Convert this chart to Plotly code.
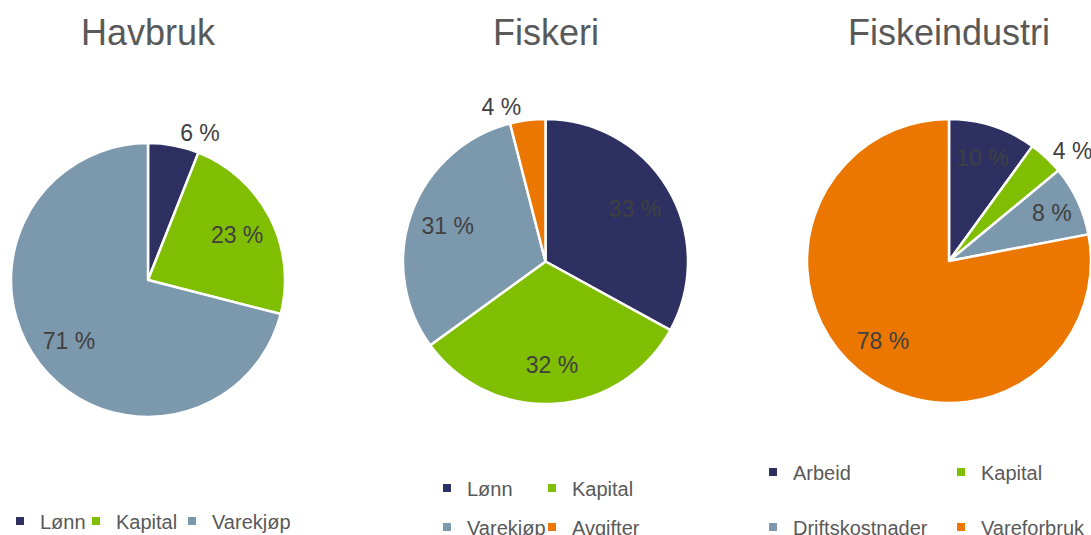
import plotly.graph_objects as go

W, H = 1091, 535

# ---- data ----
titles = ["Havbruk", "Fiskeri", "Fiskeindustri"]

havbruk_labels = ["Lønn", "Kapital", "Varekjøp"]
havbruk_values = [6, 23, 71]

fiskeri_labels = ["Lønn", "Kapital", "Varekjøp", "Avgifter"]
fiskeri_values = [33, 32, 31, 4]

industri_labels = ["Arbeid", "Kapital", "Driftskostnader", "Vareforbruk"]
industri_values = [10, 4, 8, 78]

# ---- style ----
NAVY, GREEN, GREY, ORANGE = "#2E3062", "#7FBE00", "#7C98AD", "#EB7700"
colors = [NAVY, GREEN, GREY, ORANGE]
FONT = "Arial, Liberation Sans, sans-serif"
TXT = dict(family=FONT, size=23, color="#404040")

pies = [
    # values, labels, center x, center y, radius, textpositions
    (havbruk_values, havbruk_labels, 148, 280, 137, ["outside", "inside", "inside"]),
    (fiskeri_values, fiskeri_labels, 545.5, 261.5, 142.5, ["inside", "inside", "inside", "outside"]),
    (industri_values, industri_labels, 949, 261, 142, ["inside", "outside", "inside", "inside"]),
]

# legend swatch positions (px) for each pie's entries
legend_pos = [
    [(17, 521), (101, 521), (197, 521)],
    [(452, 488), (557, 488), (452, 527), (557, 527)],
    [(778, 472), (966, 472), (778, 527), (966, 527)],
]

fig = go.Figure()
layout_legends = {}
legend_idx = 1

for (vals, labs, cx, cy, r, tpos), title, lpos in zip(pies, titles, legend_pos):
    x0 = max(0.0, (cx - r) / W)
    x1 = min(1.0, (cx + r) / W)
    y0 = max(0.0, 1 - (cy + r) / H)
    y1 = min(1.0, 1 - (cy - r) / H)
    dom = dict(x=[x0, x1], y=[y0, y1])
    # coloured slices
    fig.add_trace(go.Pie(
        values=vals, labels=labs, textinfo="none",
        marker=dict(colors=colors[:len(vals)], line=dict(color="white", width=2.5)),
        sort=False, direction="clockwise", rotation=0,
        domain=dom, showlegend=False, hoverinfo="label+percent",
    ))
    # transparent ring carrying the percentage labels (places them further out)
    fig.add_trace(go.Pie(
        values=vals, labels=labs,
        text=[f"{v} %" for v in vals],
        textinfo="text", textposition=tpos,
        insidetextorientation="horizontal",
        textfont=TXT, outsidetextfont=TXT, insidetextfont=TXT,
        marker=dict(colors=["rgba(0,0,0,0)"] * len(vals), line=dict(width=0)),
        hole=0.46,
        sort=False, direction="clockwise", rotation=0,
        domain=dom, showlegend=False, hoverinfo="skip",
    ))
    fig.add_annotation(
        text=title, x=cx / W, y=1 - 33 / H, xref="paper", yref="paper",
        xanchor="center", yanchor="middle", showarrow=False,
        font=dict(family=FONT, size=36, color="#595959"),
    )
    for i, (lab, (sx, sy)) in enumerate(zip(labs, lpos)):
        name = "legend" if legend_idx == 1 else f"legend{legend_idx}"
        fig.add_trace(go.Scatter(
            x=[None], y=[None], mode="markers", name=lab,
            marker=dict(symbol="square", size=8, color=colors[i]),
            legend=name, showlegend=True, hoverinfo="skip",
        ))
        layout_legends[name] = dict(
            x=(sx - 25) / W, y=1 - sy / H,
            xref="container", yref="container",
            xanchor="left", yanchor="middle",
            orientation="h", bgcolor="rgba(0,0,0,0)", borderwidth=0,
            font=dict(family=FONT, size=20, color="#595959"),
        )
        legend_idx += 1

fig.update_layout(
    width=W, height=H,
    margin=dict(l=0, r=0, t=0, b=0, pad=0, autoexpand=False),
    paper_bgcolor="white", plot_bgcolor="white",
    xaxis=dict(visible=False), yaxis=dict(visible=False),
    **layout_legends,
)

fig.write_html(
    "out.html",
    config={"displayModeBar": False},
    post_script="document.body.style.margin='0px';",
)
